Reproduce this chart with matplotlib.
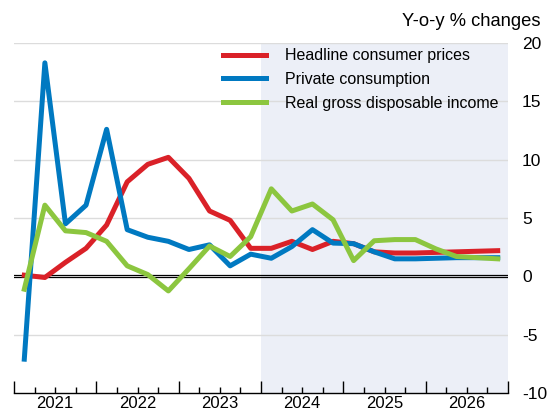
import numpy as np
import matplotlib
matplotlib.use("Agg")
import matplotlib.pyplot as plt
from matplotlib.ticker import FixedLocator, FixedFormatter

plt.rcParams["font.family"] = ["Liberation Sans", "DejaVu Sans"]
plt.rcParams["axes.unicode_minus"] = False

# quarterly data, 2021Q1 .. 2026Q4
years = [2021, 2022, 2023, 2024, 2025, 2026]
headline = [0.1, -0.1, 1.2, 2.4, 4.4, 8.1, 9.6, 10.2, 8.4, 5.6, 4.8, 2.4,
            2.4, 3.0, 2.3, 3.0, 2.8, 2.1, 2.0, 2.0, 2.05, 2.1, 2.15, 2.2]
consumption = [-7.1, 18.3, 4.5, 6.1, 12.6, 4.0, 3.35, 3.0, 2.3, 2.7, 0.9, 1.9,
               1.55, 2.55, 4.0, 2.85, 2.8, 2.1, 1.5, 1.5, 1.55, 1.6, 1.6, 1.6]
income = [-1.1, 6.1, 3.9, 3.75, 3.0, 0.9, 0.15, -1.25, 0.65, 2.6, 1.7, 3.4,
          7.5, 5.6, 6.2, 4.85, 1.35, 3.05, 3.15, 3.15, 2.35, 1.7, 1.6, 1.5]
forecast_start = 2024

x = years[0] + (np.arange(len(headline)) + 0.5) / 4

fig = plt.figure(figsize=(5.5, 4.13), dpi=100)
ax = fig.add_axes([14 / 550, 20 / 413, 494 / 550, 350 / 413])

ax.axvspan(forecast_start, years[-1] + 1, color="#ECEFF7", lw=0, zorder=0)
for v in [-5, 5, 10, 15, 20]:
    ax.axhline(v, color="#DCDCDC", lw=1, zorder=1)
ax.axhline(0.09, color="black", lw=0.9, zorder=2)
ax.axhline(-0.09, color="black", lw=0.9, zorder=2)

ax.plot(x, headline, color="#DA2128", lw=3.6, label="Headline consumer prices", zorder=3)
ax.plot(x, consumption, color="#0079C1", lw=3.6, label="Private consumption", zorder=4)
ax.plot(x, income, color="#8CC63F", lw=3.6, label="Real gross disposable income", zorder=5)

ax.set_xlim(years[0], years[-1] + 1)
ax.set_ylim(-10, 20)

for s in ["top", "left", "right"]:
    ax.spines[s].set_visible(False)
ax.spines["bottom"].set_linewidth(1)

# x axis: long ticks at year boundaries, short at quarters, labels mid-year
ax.xaxis.set_major_locator(FixedLocator(years + [years[-1] + 1]))
ax.xaxis.set_major_formatter(FixedFormatter([""] * (len(years) + 1)))
minor_pos, minor_lab = [], []
for yr in years:
    for q in (1, 2, 3):
        minor_pos.append(yr + q / 4)
        minor_lab.append(str(yr) if q == 2 else "")
ax.xaxis.set_minor_locator(FixedLocator(minor_pos))
ax.xaxis.set_minor_formatter(FixedFormatter(minor_lab))
ax.tick_params(axis="x", which="major", direction="in", length=9, width=1)
ax.tick_params(axis="x", which="minor", direction="in", length=4, width=1,
               labelsize=12, pad=2.5)

ax.set_yticks([-10, -5, 0, 5, 10, 15, 20])
ax.yaxis.tick_right()
ax.tick_params(axis="y", length=0, labelsize=12.5, pad=10)

fig.text(540 / 550, 1 - 21 / 413, "Y-o-y % changes", ha="right", va="center", fontsize=13.2)

ax.legend(loc="upper left", bbox_to_anchor=(0.423, 0.985), frameon=False,
          fontsize=11.5, handlelength=2.7, handletextpad=1.2, labelspacing=0.55,
          borderpad=0, borderaxespad=0)

fig.savefig("out.png", dpi=100)
